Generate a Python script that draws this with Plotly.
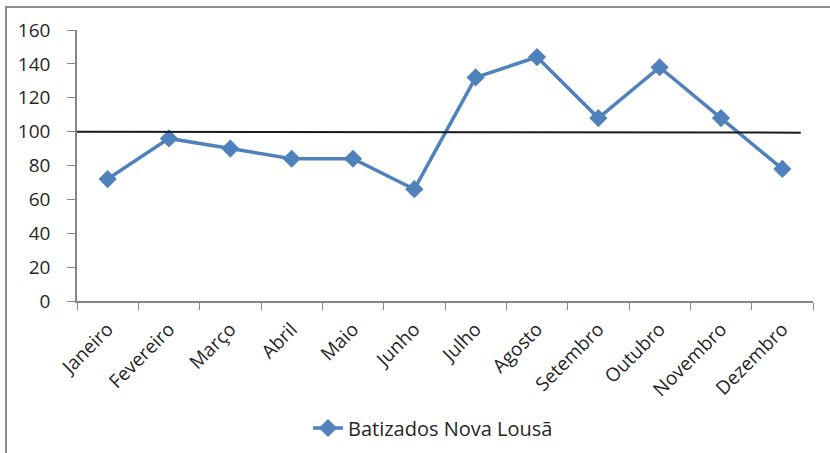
import plotly.graph_objects as go

months = ["Janeiro", "Fevereiro", "Março", "Abril", "Maio", "Junho",
          "Julho", "Agosto", "Setembro", "Outubro", "Novembro", "Dezembro"]
batizados = [72, 96, 90, 84, 84, 66, 132, 144, 108, 138, 108, 78]
series_name = "Batizados Nova Lousã"

# hand-drawn reference line (start/end in category index units, values)
ref_x = [-0.53, 11.3]
ref_y = [100, 99.4]

y_ticks = [0, 20, 40, 60, 80, 100, 120, 140, 160]

# figure slightly taller than the 453px window so the legend does not push margins
W, H = 830, 480
ml, mr, mt = 77, 17, 30
mb = H - 301
pw = W - ml - mr
ph = H - mt - mb

def px_to_paper_x(px):
    return (px - ml) / pw

def px_to_paper_y(py):
    return (H - mb - py) / ph

fig = go.Figure()
fig.add_trace(go.Scatter(
    x=months, y=batizados, name=series_name, mode="lines+markers",
    line=dict(color="#4F81BD", width=3.5),
    marker=dict(symbol="diamond", size=14, color="#4F81BD"),
))

axis_col = "#868686"
font_col = "#262626"
fnt = "Open Sans"

fig.update_layout(
    width=W, height=H,
    margin=dict(l=ml, r=mr, t=mt, b=mb),
    paper_bgcolor="white", plot_bgcolor="white",
    font=dict(family=fnt, color=font_col, size=17),
    showlegend=True,
    legend=dict(orientation="h", x=px_to_paper_x(433), xanchor="center",
                y=px_to_paper_y(428), yanchor="middle",
                font=dict(size=20, family=fnt, color=font_col)),
    xaxis=dict(type="category", range=[-0.5, 11.5], showline=True,
               linecolor=axis_col, linewidth=1.5, ticks="outside",
               tickson="boundaries", ticklen=7, tickcolor=axis_col,
               tickangle=-45, showgrid=False, zeroline=False,
               ticklabelstandoff=8, automargin=False,
               tickfont=dict(size=19, family=fnt, color=font_col)),
    yaxis=dict(range=[0, 160], tickvals=y_ticks, showline=True,
               linecolor=axis_col, linewidth=1.5, ticks="outside",
               ticklen=8, tickcolor=axis_col, showgrid=False, zeroline=False,
               ticklabelstandoff=13, automargin=False,
               tickfont=dict(size=19, family=fnt, color=font_col)),
    shapes=[
        dict(type="line", xref="x", yref="y", x0=ref_x[0], x1=ref_x[1],
             y0=ref_y[0], y1=ref_y[1], line=dict(color="#1a1a1a", width=2),
             layer="above"),
        dict(type="rect", xref="paper", yref="paper",
             x0=px_to_paper_x(6), x1=px_to_paper_x(845),
             y0=px_to_paper_y(H + 10), y1=px_to_paper_y(7),
             line=dict(color="#8c8c8c", width=2), layer="below"),
    ],
)

fig.write_html("out.html", config={"displayModeBar": False},
               post_script="document.body.style.margin='0px';document.body.style.overflow='hidden';")
